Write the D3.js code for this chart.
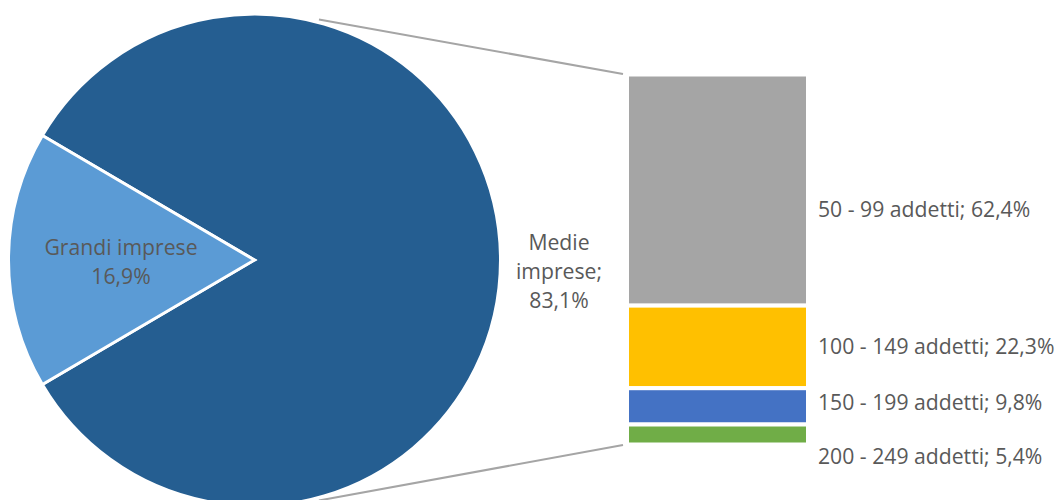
<!DOCTYPE html>
<html>
<head>
<meta charset="utf-8">
<script src="https://cdn.jsdelivr.net/npm/d3@7"></script>
<style>
  html, body { margin: 0; padding: 0; background: #ffffff; }
  svg { display: block; }
  text { font-family: "Open Sans", "Noto Sans", sans-serif; fill: #595959; }
</style>
</head>
<body>
<svg id="chart" width="1061" height="500"></svg>
<script>
// Pie: company size split
const pieLabels = ["Medie imprese", "Grandi imprese"];
const pieValues = [83.1, 16.9];
const pieColors = ["#255E91", "#5B9BD5"];

// Breakdown of "Medie imprese" by number of employees
const barLabels = ["50 - 99 addetti", "100 - 149 addetti", "150 - 199 addetti", "200 - 249 addetti"];
const barValues = [62.4, 22.3, 9.8, 5.4];
const barColors = ["#A5A5A5", "#FFC000", "#4472C4", "#70AD47"];

const fmt = v => v.toFixed(1).replace(".", ",") + "%";

const svg = d3.select("#chart");

// ---- Pie ----
const cx = 254.5, cy = 260, R = 246;
const grandiShare = pieValues[1] / d3.sum(pieValues);
// Center the small slice on the left side (9 o'clock)
const start = 1.5 * Math.PI + Math.PI * grandiShare;
const pie = d3.pie().sort(null).startAngle(start).endAngle(start + 2 * Math.PI);
const arcs = pie(pieValues);
const arc = d3.arc().innerRadius(0).outerRadius(R);

const gPie = svg.append("g").attr("transform", `translate(${cx},${cy})`);
gPie.selectAll("path")
  .data(arcs)
  .join("path")
  .attr("d", arc)
  .attr("fill", (d, i) => pieColors[i])
  .attr("stroke", "#ffffff")
  .attr("stroke-width", 3)
  .attr("stroke-linejoin", "miter");

// ---- Stacked bar ----
const barX = 627, barW = 181;
const y = d3.scaleLinear().domain([0, d3.sum(barValues)]).range([74.5, 444.5]);
const cum = d3.cumsum(barValues);
const segs = barValues.map((v, i) => ({ v, y0: i ? cum[i - 1] : 0, y1: cum[i], i }));

svg.append("g").selectAll("rect")
  .data(segs)
  .join("rect")
  .attr("x", barX)
  .attr("width", barW)
  .attr("y", d => y(d.y0))
  .attr("height", d => y(d.y1) - y(d.y0))
  .attr("fill", d => barColors[d.i])
  .attr("stroke", "#ffffff")
  .attr("stroke-width", 4);

// ---- Connector lines from pie to bar ----
const connAngle = 15 * Math.PI / 180;
const rc = R + 3;
const topPt = [cx + rc * Math.sin(connAngle), cy - rc * Math.cos(connAngle)];
const botPt = [cx + rc * Math.sin(connAngle), cy + rc * Math.cos(connAngle)];
const connector = svg.append("g")
  .attr("stroke", "#A5A5A5")
  .attr("stroke-width", 2)
  .attr("fill", "none");
connector.append("line")
  .attr("x1", topPt[0]).attr("y1", topPt[1])
  .attr("x2", barX - 4).attr("y2", y(0) - 0.5);
connector.append("line")
  .attr("x1", botPt[0]).attr("y1", botPt[1])
  .attr("x2", barX - 4).attr("y2", y(d3.sum(barValues)) + 0.5);

// ---- Labels ----
const fs = 21.2;
// Grandi imprese, inside the slice
const gx = 121;
const gl = svg.append("text")
  .attr("text-anchor", "middle")
  .style("font-size", fs + "px");
gl.append("tspan").attr("x", gx).attr("y", 248).attr("dy", "0.35em").text(pieLabels[1]);
gl.append("tspan").attr("x", gx).attr("y", 277).attr("dy", "0.35em").text(fmt(pieValues[1]));

// Medie imprese, outside the pie on the right
const ml = svg.append("text")
  .attr("text-anchor", "middle")
  .style("font-size", fs + "px");
const mx = 559;
["Medie", "imprese;", fmt(pieValues[0])].forEach((t, i) => {
  ml.append("tspan").attr("x", mx).attr("y", 243 + i * 29).attr("dy", "0.35em").text(t);
});

// Bar segment labels
const labelShift = [20, 0, -4, 22];
svg.append("g").selectAll("text")
  .data(segs)
  .join("text")
  .attr("x", 818)
  .attr("y", d => (y(d.y0) + y(d.y1)) / 2 + labelShift[d.i])
  .attr("dy", "0.35em")
  .style("font-size", fs + "px")
  .text(d => `${barLabels[d.i]}; ${fmt(d.v)}`);
</script>
</body>
</html>
